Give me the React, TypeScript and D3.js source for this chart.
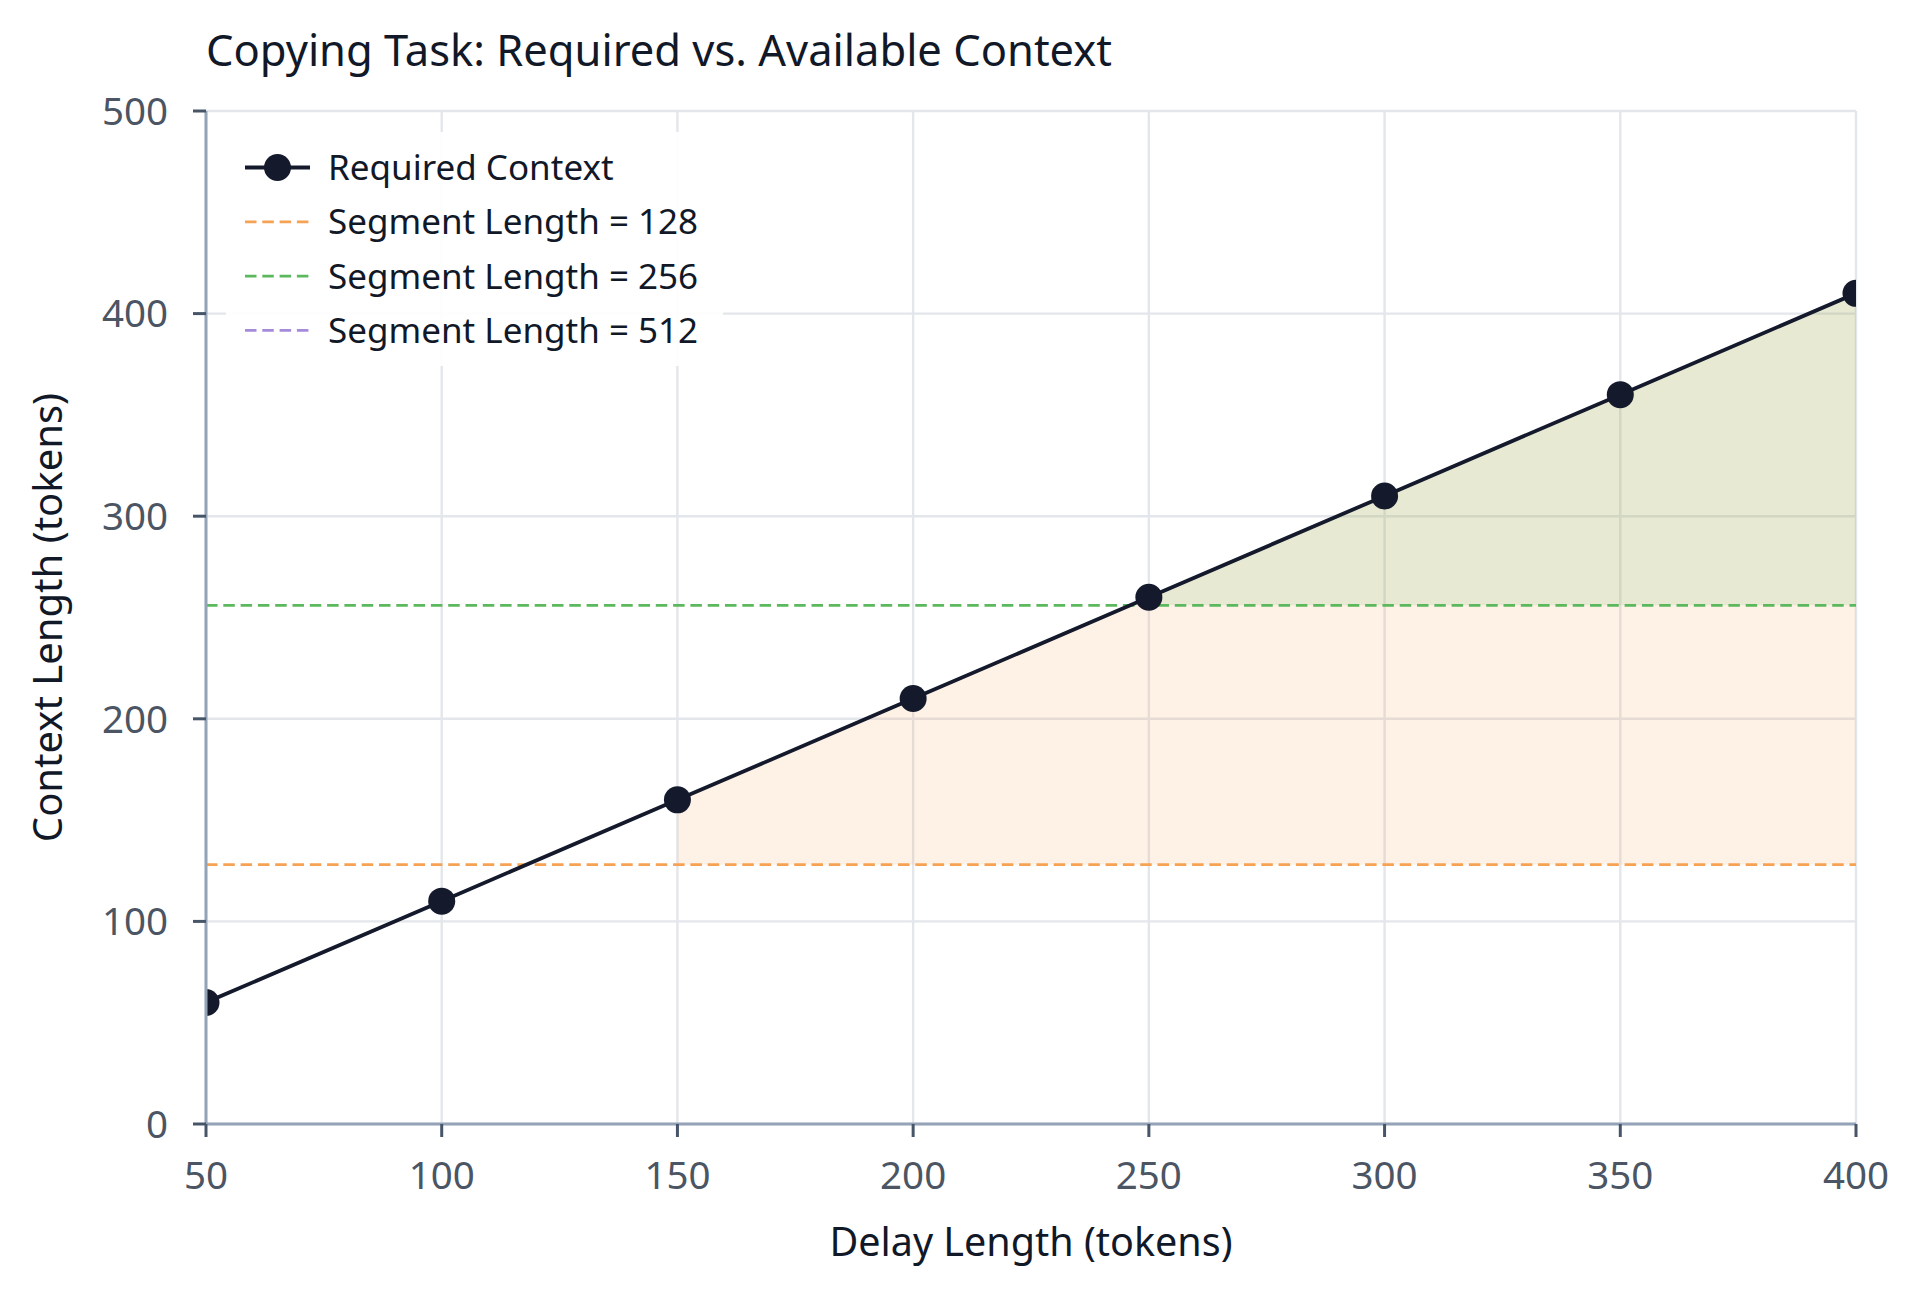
import React from "react";
import * as d3 from "d3";

const delayLengths = [50, 100, 150, 200, 250, 300, 350, 400];
const requiredContext = [60, 110, 160, 210, 260, 310, 360, 410];
const segmentLengths = [128, 256, 512];
const segmentColors = ["#f6a254", "#5cb85c", "#a78bdb"];
const xTicks = [50, 100, 150, 200, 250, 300, 350, 400];
const yTicks = [0, 100, 200, 300, 400, 500];

const W = 1920;
const H = 1292;
const L = 206, R = 1856, T = 111, B = 1124;
const FONT = "'Noto Sans', 'DejaVu Sans', sans-serif";

export default function App() {
  const x = d3.scaleLinear().domain([50, 400]).range([L, R]);
  const y = d3.scaleLinear().domain([0, 500]).range([B, T]);
  const pts = delayLengths.map((d, i) => ({ x: d, y: requiredContext[i] }));

  const line = d3.line<{ x: number; y: number }>().x(d => x(d.x)).y(d => y(d.y));

  const fills = segmentLengths.map((s, si) => {
    const sub = pts.filter(p => p.y > s);
    if (sub.length < 2) return null;
    const area = d3.area<{ x: number; y: number }>().x(d => x(d.x)).y0(() => y(s)).y1(d => y(d.y));
    return <path key={"f" + si} d={area(sub) || ""} fill={segmentColors[si]} fillOpacity={0.14} />;
  });

  const legendItems = ["Required Context", ...segmentLengths.map(s => `Segment Length = ${s}`)];

  return (
    <div style={{ position: "absolute", left: 0, top: 0 }}>
      <svg width={W} height={H} style={{ display: "block", background: "#fff" }} fontFamily={FONT}>
        <defs>
          <clipPath id="plotclip">
            <rect x={L} y={T} width={R - L} height={B - T} />
          </clipPath>
        </defs>
        <rect x={0} y={0} width={W} height={H} fill="#fff" />
        {/* grid */}
        {xTicks.map(t => (
          <line key={"gx" + t} x1={x(t)} x2={x(t)} y1={T} y2={B} stroke="#e3e6eb" strokeWidth={2.4} />
        ))}
        {yTicks.map(t => (
          <line key={"gy" + t} x1={L} x2={R} y1={y(t)} y2={y(t)} stroke="#e3e6eb" strokeWidth={2.4} />
        ))}
        <g clipPath="url(#plotclip)">
          {fills}
          {segmentLengths.map((s, si) => (
            <line key={"s" + si} x1={L} x2={R} y1={y(s)} y2={y(s)} stroke={segmentColors[si]}
              strokeWidth={2.7} strokeDasharray="11.5 5.8" />
          ))}
          <path d={line(pts) || ""} fill="none" stroke="#141a2c" strokeWidth={3.8} />
          {pts.map((p, i) => (
            <circle key={"m" + i} cx={x(p.x)} cy={y(p.y)} r={13.5} fill="#141a2c" />
          ))}
        </g>
        {/* spines */}
        <line x1={L} x2={L} y1={T} y2={B} stroke="#94a3b8" strokeWidth={3} />
        <line x1={L} x2={R} y1={B} y2={B} stroke="#94a3b8" strokeWidth={3} />
        {/* y ticks */}
        {yTicks.map(t => (
          <g key={"yt" + t}>
            <line x1={L - 13} x2={L} y1={y(t)} y2={y(t)} stroke="#475569" strokeWidth={3} />
            <text x={168} y={y(t)} dy="0.36em" textAnchor="end" fontSize={38.5} fill="#4b5563">{t}</text>
          </g>
        ))}
        {/* x ticks */}
        {xTicks.map(t => (
          <g key={"xt" + t}>
            <line x1={x(t)} x2={x(t)} y1={B} y2={B + 13} stroke="#475569" strokeWidth={3} />
            <text x={x(t)} y={1189} textAnchor="middle" fontSize={38.5} fill="#4b5563">{t}</text>
          </g>
        ))}
        {/* axis labels */}
        <text x={(L + R) / 2} y={1256} textAnchor="middle" fontSize={39.5} fill="#111827">Delay Length (tokens)</text>
        <text transform={`translate(62, ${(T + B) / 2}) rotate(-90)`} textAnchor="middle" fontSize={40} fill="#111827">Context Length (tokens)</text>
        {/* title */}
        <text x={206} y={66} fontSize={43.5} fill="#111827">Copying Task: Required vs. Available Context</text>
        {/* legend */}
        <rect x={226} y={132} width={497} height={234} rx={6} fill="#fff" fillOpacity={0.92} />
        {legendItems.map((lab, i) => {
          const ly = 167.5 + i * 54.3;
          return (
            <g key={"lg" + i}>
              {i === 0 ? (
                <>
                  <line x1={245} x2={310} y1={ly} y2={ly} stroke="#141a2c" strokeWidth={3.8} />
                  <circle cx={277.5} cy={ly} r={13.5} fill="#141a2c" />
                </>
              ) : (
                <line x1={245} x2={310} y1={ly} y2={ly} stroke={segmentColors[i - 1]} strokeWidth={2.7}
                  strokeDasharray="11.5 5.8" />
              )}
              <text x={328} y={ly} dy="0.36em" fontSize={35} fill="#111827">{lab}</text>
            </g>
          );
        })}
      </svg>
    </div>
  );
}
